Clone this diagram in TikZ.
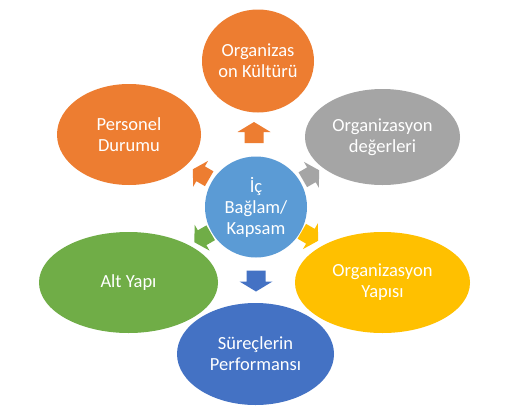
\documentclass[tikz,border=0pt]{standalone}
\usepackage{fontspec}
\setmainfont{Carlito}
\usetikzlibrary{shapes.geometric}
\definecolor{cOrange}{HTML}{ED7D31}
\definecolor{cGray}{HTML}{A5A5A5}
\definecolor{cYellow}{HTML}{FFC000}
\definecolor{cBlue}{HTML}{4472C4}
\definecolor{cLight}{HTML}{5B9BD5}
\definecolor{cGreen}{HTML}{70AD47}
\tikzset{
  bub/.style={ellipse, inner sep=0pt, text=white, align=center,
    font=\fontsize{18.5}{21}\selectfont},
  barrow/.pic={\path[pic actions] (-10.5,-9.5) -- (0.5,-9.5) -- (0.5,-16.5) -- (10.5,0)
     -- (0.5,16.5) -- (0.5,9.5) -- (-10.5,9.5) -- cycle;}
}
\begin{document}
\begin{tikzpicture}[x=1pt,y=-1pt]
\useasboundingbox[fill=white] (0,0) rectangle (514,410);
% arrows
\pic[fill=cOrange, rotate=90] (a1) at (254,132.5) {barrow};
\pic[fill=cBlue, rotate=270] (a4) at (256,281) {barrow};
\pic[fill=cOrange, rotate=150, scale=0.9] (a2) at (201,174) {barrow};
\pic[fill=cGray, rotate=30, scale=0.9] (a3) at (311,175) {barrow};
\pic[fill=cGreen, rotate=210, scale=0.9] (a5) at (202.5,237.5) {barrow};
\pic[fill=cYellow, rotate=330, scale=0.9] (a6) at (310,236) {barrow};
% nodes
\node[bub, fill=cLight, minimum width=102pt, minimum height=101pt] (c) at (256,207) {İç\\Bağlam/\\Kapsam};
\node[bub, fill=cOrange, minimum width=112pt, minimum height=103pt] (top) at (258,61) {Organizas\\on Kültürü};
\node[bub, fill=cOrange, minimum width=144pt, minimum height=101pt] (pd) at (129,134.5) {Personel\\Durumu};
\node[bub, fill=cGray, minimum width=155pt, minimum height=96pt] (od) at (382.5,137) {Organizasyon\\değerleri};
\node[bub, fill=cGreen, minimum width=179pt, minimum height=101pt] (ay) at (128.5,282.5) {Alt Yapı};
\node[bub, fill=cYellow, minimum width=175pt, minimum height=101pt] (oy) at (382.5,282.5) {Organizasyon\\Yapısı};
\node[bub, fill=cBlue, minimum width=157pt, minimum height=102pt] (sp) at (255.5,354) {Süreçlerin\\Performansı};
\end{tikzpicture}
\end{document}
